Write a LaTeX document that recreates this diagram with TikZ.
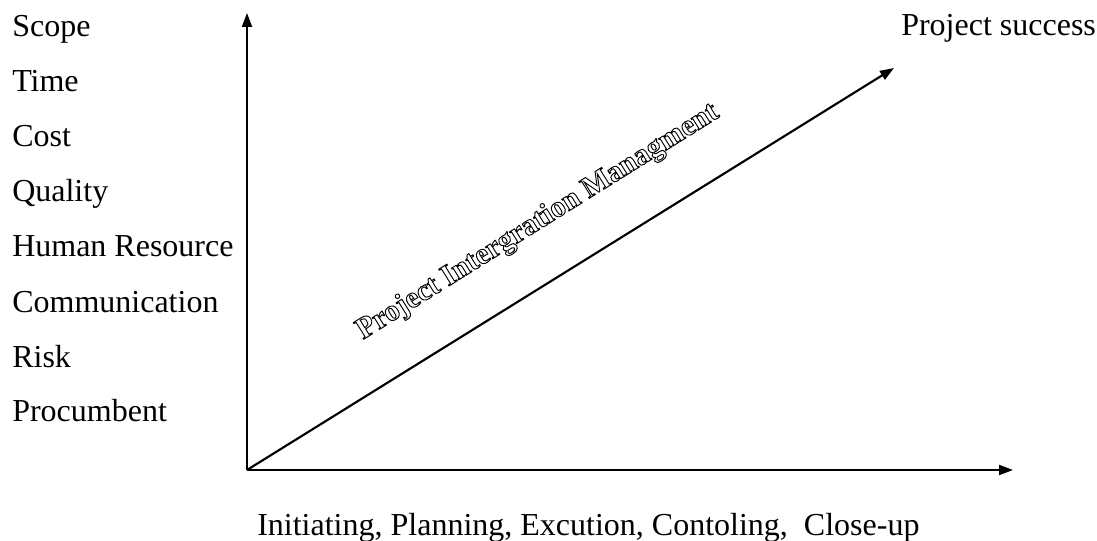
\documentclass[tikz,border=0pt]{standalone}
\usepackage{fontspec}
\setmainfont{Liberation Serif}
\usetikzlibrary{arrows.meta,positioning}

% outlined (hollow) letters, as in the diagonal title
\newcommand{\hollowtext}[1]{\special{pdf:literal direct 1 Tr 0.7 w}#1\special{pdf:literal direct 0 Tr}}

\begin{document}
\begin{tikzpicture}[
    x=0.75pt, y=0.75pt, >={Triangle[length=10.5pt, width=7.5pt]}, line cap=butt,
    axis/.style  ={->, line width=1.6pt},
    factor/.style={font=\fontsize{24}{28}\selectfont, anchor=base west, inner sep=0pt},
    phase/.style ={font=\fontsize{24}{28}\selectfont, anchor=base west, inner sep=0pt},
    pim/.style   ={font=\fontsize{22.5}{26}\selectfont\bfseries, rotate=32, inner sep=0pt}
]
\useasboundingbox (0,0) rectangle (1097,540);

% axes
\coordinate (O)    at (247, 70);
\coordinate (ytop) at (247, 527);
\coordinate (xend) at (1013, 70);
\coordinate (succ) at (894, 472);
\draw[axis] (O) -- (ytop);
\draw[axis] (O) -- (xend);
\draw[axis] (O) -- (succ);

% knowledge areas (left column)
\foreach \lab [count=\i] in {Scope, Time, Cost, Quality, Human Resource, Communication, Risk, Procumbent}
  \node[factor] (area\i) at (12, {540-37-55*(\i-1)}) {\lab};

% top right
\node[factor] (success) at (901, 504) {Project success};

% process groups (bottom)
\node[phase] (groups) at (257, 5) {Initiating, Planning, Excution, Contoling,~~Close-up};

% diagonal title
\node[pim] (pimtitle) at (538, 318) {\hollowtext{Project Intergration Managment}};
\end{tikzpicture}
\end{document}
